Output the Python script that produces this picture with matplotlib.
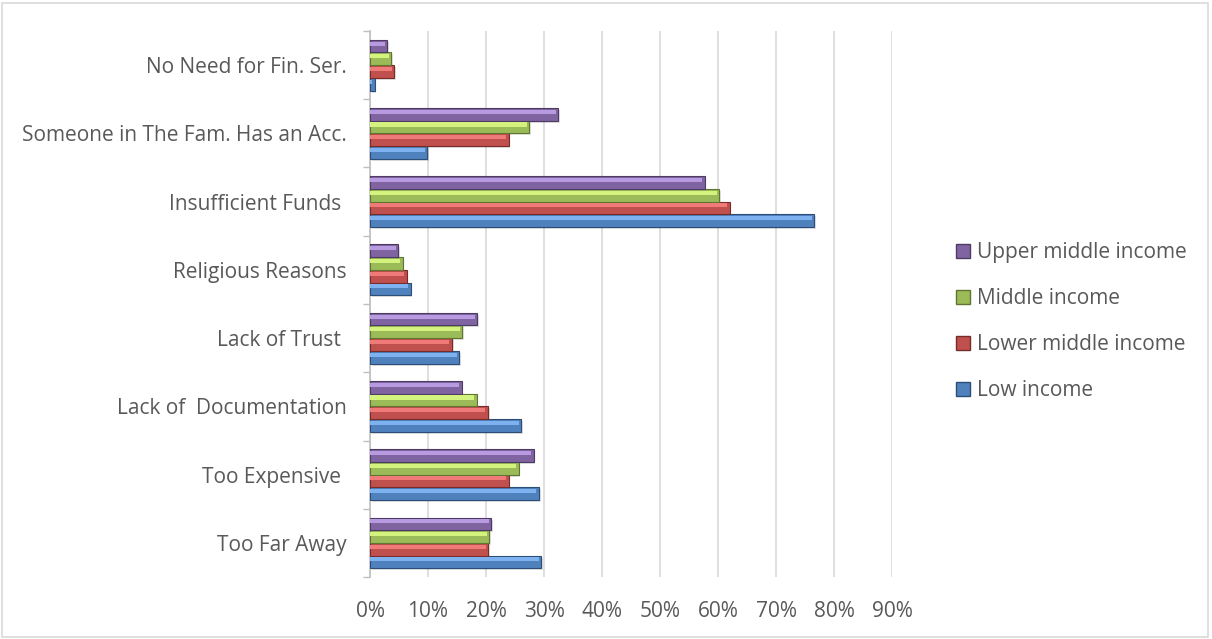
import matplotlib
matplotlib.use("Agg")
import matplotlib.pyplot as plt
import numpy as np
from matplotlib.patches import Rectangle, Patch
from matplotlib.ticker import FixedLocator, PercentFormatter

categories = ["Too Far Away", "Too Expensive ", "Lack of  Documentation", "Lack of Trust ",
              "Religious Reasons", "Insufficient Funds ", "Someone in The Fam. Has an Acc.",
              "No Need for Fin. Ser."]
series_names = ["Low income", "Lower middle income", "Middle income", "Upper middle income"]
low_income = [0.295, 0.291, 0.260, 0.154, 0.070, 0.766, 0.098, 0.008]
lower_middle = [0.204, 0.239, 0.203, 0.141, 0.063, 0.620, 0.239, 0.042]
middle = [0.205, 0.256, 0.184, 0.159, 0.056, 0.602, 0.274, 0.036]
upper_middle = [0.209, 0.282, 0.158, 0.185, 0.048, 0.577, 0.324, 0.029]
x_ticks = [0.0, 0.1, 0.2, 0.3, 0.4, 0.5, 0.6, 0.7, 0.8, 0.9]

colors = ["#4F81BD", "#C0504D", "#9BBB59", "#8064A2"]
edges = ["#2C4D75", "#772C2A", "#5F7530", "#4D3B62"]
lights = ["#7EB1F0", "#F07A77", "#D4F27E", "#B79AE0"]

plt.rcParams['font.family'] = ['Open Sans', 'DejaVu Sans']
fig = plt.figure(figsize=(12.12, 6.39), dpi=100)
fig.patches.append(Rectangle((0.002, 0.003), 0.995, 0.993, transform=fig.transFigure,
                             fill=False, edgecolor="#D9D9D9", linewidth=1.2))
ax = fig.add_axes([0.3053, 0.097, 0.4307, 0.8545])

data = [low_income, lower_middle, middle, upper_middle]
y = np.arange(len(categories))
h = 0.186
for i, vals in enumerate(data):
    pos = y + (i - 1.5) * h
    ax.barh(pos - 0.03, vals, height=h, left=0.003, color="#000000", alpha=0.12, zorder=2)
    ax.barh(pos, vals, height=h, color=colors[i], edgecolor=edges[i], linewidth=0.8,
            zorder=3, label=series_names[i])
    ax.barh(pos + h * 0.2, np.array(vals) - 0.004, height=h * 0.32, left=0.0,
            color=lights[i], linewidth=0, zorder=4)

ax.set_xlim(0, 0.9)
ax.set_ylim(-0.5, len(categories) - 0.5)
ax.xaxis.set_major_locator(FixedLocator(x_ticks))
ax.xaxis.set_major_formatter(PercentFormatter(1.0, decimals=0))
ax.set_yticks(y)
ax.set_yticklabels(categories)
ax.yaxis.set_minor_locator(FixedLocator(np.arange(-0.5, len(categories), 1.0)))
ax.tick_params(axis='y', which='major', length=0, pad=17, labelsize=15, labelcolor="#595959")
ax.tick_params(axis='y', which='minor', length=5, color="#BFBFBF", width=1)
ax.tick_params(axis='x', length=0, pad=17, labelsize=15, labelcolor="#595959")
ax.grid(axis='x', color="#D9D9D9", linewidth=1.2, zorder=0)
ax.set_axisbelow(True)
for s in ["top", "right", "bottom"]:
    ax.spines[s].set_visible(False)
ax.spines["left"].set_color("#BFBFBF")
ax.spines["left"].set_linewidth(1.2)

handles = [Patch(facecolor=colors[i], edgecolor=edges[i]) for i in range(4)][::-1]
labels = series_names[::-1]
ax.legend(handles, labels, loc="center left", bbox_to_anchor=(1.087, 0.468), frameon=False,
          fontsize=15, labelcolor="#595959", handlelength=0.65, handleheight=0.65,
          handletextpad=0.35, labelspacing=1.2)

fig.savefig("out.png", dpi=100)
